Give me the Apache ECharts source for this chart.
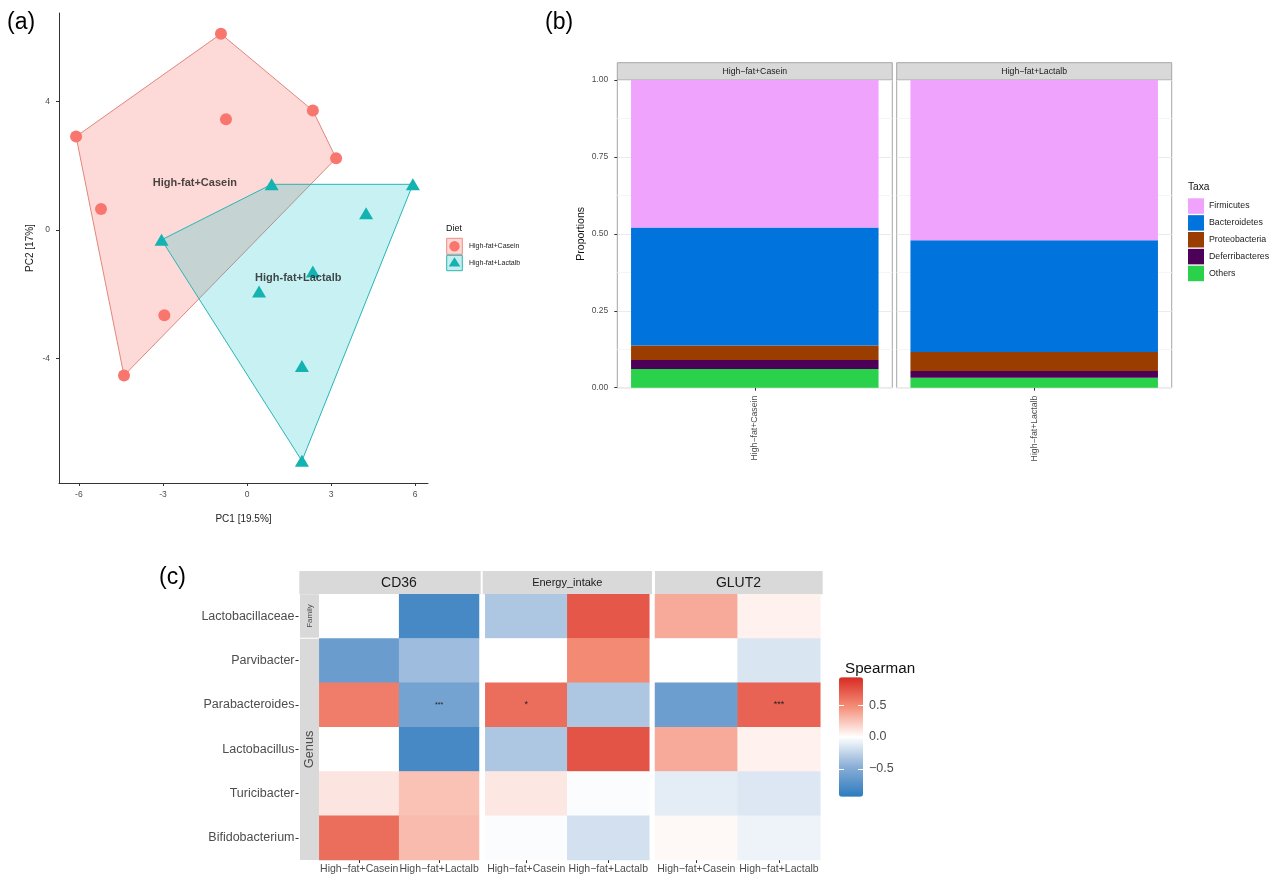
<!DOCTYPE html>
<html><head><meta charset="utf-8">
<script src="https://cdn.jsdelivr.net/npm/echarts@6.0.0/dist/echarts.min.js"></script>
<style>html,body{margin:0;padding:0;background:#fff}#chart{width:1281px;height:877px}</style>
</head><body><div id="chart"></div>
<script>
// ---------- (a) PCA ----------
const dietGroups = ['High-fat+Casein', 'High-fat+Lactalb'];
const pcaCaseinPC1 = [-0.93, 2.35, -0.75, -6.10, 3.18, -5.21, -2.95, -4.39];
const pcaCaseinPC2 = [6.11, 3.72, 3.45, 2.91, 2.23, 0.65, -2.66, -4.54];
const pcaLactalbPC1 = [0.88, 5.92, 4.25, -3.05, 2.35, 0.43, 1.96, 1.96];
const pcaLactalbPC2 = [1.42, 1.42, 0.52, -0.31, -1.30, -1.92, -4.24, -7.20];
const pcaLabelPC1 = [-1.86, 1.83];
const pcaLabelPC2 = [1.47, -1.49];
const pcaXTicks = [-6, -3, 0, 3, 6];
const pcaYTicks = [-4, 0, 4];

// ---------- (b) stacked proportions ----------
const facetDiets = ['High\u2212fat+Casein', 'High\u2212fat+Lactalb'];
const taxa = ['Firmicutes', 'Bacteroidetes', 'Proteobacteria', 'Deferribacteres', 'Others'];
const taxaColors = ['#f0a3fc', '#0073dd', '#9a3d00', '#4d0057', '#2ad14a'];
const propCasein = [0.479, 0.384, 0.047, 0.029, 0.061];
const propLactalb = [0.521, 0.363, 0.062, 0.022, 0.032];

// ---------- (c) Spearman heatmap ----------
const heatGenes = ['CD36', 'Energy_intake', 'GLUT2'];
const heatDiets = ['High\u2212fat+Casein', 'High\u2212fat+Lactalb'];
const heatRows = ['Lactobacillaceae', 'Parvibacter', 'Parabacteroides', 'Lactobacillus', 'Turicibacter', 'Bifidobacterium'];
const rhoCD36 = [[0, -0.81], [-0.63, -0.39], [0.56, -0.58], [0, -0.81], [0.11, 0.26], [0.63, 0.29]];
const rhoEnergy = [[-0.33, 0.73], [0, 0.50], [0.63, -0.33], [-0.33, 0.75], [0.10, -0.02], [-0.02, -0.18]];
const rhoGLUT2 = [[0.36, 0.06], [0, -0.15], [-0.62, 0.68], [0.36, 0.06], [-0.11, -0.14], [0.03, -0.07]];
const sigCD36 = [['', ''], ['', ''], ['', '***'], ['', ''], ['', ''], ['', '']];
const sigEnergy = [['', ''], ['', ''], ['*', ''], ['', ''], ['', ''], ['', '']];
const sigGLUT2 = [['', ''], ['', ''], ['', '***'], ['', ''], ['', ''], ['', '']];
const spearmanTicks = [-0.5, 0, 0.5];

const FONT = 'Liberation Sans, Arial, sans-serif';

function convexHull(pts) {
  const p = pts.slice().sort((a, b) => a[0] - b[0] || a[1] - b[1]);
  const cross = (o, a, b) => (a[0] - o[0]) * (b[1] - o[1]) - (a[1] - o[1]) * (b[0] - o[0]);
  const lower = [];
  for (const q of p) { while (lower.length >= 2 && cross(lower[lower.length - 2], lower[lower.length - 1], q) <= 0) lower.pop(); lower.push(q); }
  const upper = [];
  for (let i = p.length - 1; i >= 0; i--) { const q = p[i]; while (upper.length >= 2 && cross(upper[upper.length - 2], upper[upper.length - 1], q) <= 0) upper.pop(); upper.push(q); }
  upper.pop(); lower.pop();
  return lower.concat(upper);
}
const casPts = pcaCaseinPC1.map((x, i) => [x, pcaCaseinPC2[i]]);
const lacPts = pcaLactalbPC1.map((x, i) => [x, pcaLactalbPC2[i]]);
const hullC = convexHull(casPts);
const hullL = convexHull(lacPts);

function hullSeries(h, fill, stroke) {
  return {
    type: 'custom', xAxisIndex: 0, yAxisIndex: 0, data: h, silent: true, z: 1,
    renderItem: (params, api) => {
      if (params.dataIndex !== 0) return null;
      return { type: 'polygon', shape: { points: h.map(p => api.coord(p)) }, style: { fill: fill, stroke: stroke, lineWidth: 1 } };
    }
  };
}

const series = [];
series.push(hullSeries(hullC, 'rgba(248,118,109,0.27)', '#e0877e'));
series.push(hullSeries(hullL, 'rgba(0,191,196,0.22)', '#2ab5b5'));
series.push({ type: 'scatter', name: dietGroups[0], xAxisIndex: 0, yAxisIndex: 0, data: casPts, symbol: 'circle', symbolSize: 12, itemStyle: { color: '#F8766D', opacity: 1 }, z: 3, silent: true });
series.push({ type: 'scatter', name: dietGroups[1], xAxisIndex: 0, yAxisIndex: 0, data: lacPts, symbol: 'triangle', symbolSize: [14, 12], itemStyle: { color: '#13b3b1', opacity: 1 }, z: 3, silent: true });
series.push({
  type: 'scatter', xAxisIndex: 0, yAxisIndex: 0, symbolSize: 0, silent: true, z: 4,
  data: dietGroups.map((g, i) => ({ name: g, value: [pcaLabelPC1[i], pcaLabelPC2[i]] })),
  label: { show: true, position: 'inside', formatter: '{b}', fontWeight: 'bold', fontSize: 11, color: '#1a1a1a', fontFamily: FONT }
});

// (b) bars, stacked bottom->top: reversed taxa order
[propCasein, propLactalb].forEach((vals, g) => {
  for (let k = taxa.length - 1; k >= 0; k--) {
    series.push({ type: 'bar', name: taxa[k], xAxisIndex: 1 + g, yAxisIndex: 1 + g, stack: 's' + g, barWidth: '90%', data: [vals[k]], itemStyle: { color: taxaColors[k] }, silent: true });
  }
});

// (c) heatmaps
const heatIdx = [];
[rhoCD36, rhoEnergy, rhoGLUT2].forEach((rho, g) => {
  const sig = [sigCD36, sigEnergy, sigGLUT2][g];
  const data = [];
  heatRows.forEach((r, ri) => {
    heatDiets.forEach((d, di) => {
      const item = { value: [di, ri, rho[ri][di]] };
      if (sig[ri][di]) item.label = { show: true, formatter: sig[ri][di], fontSize: g === 0 ? 7 : 9, color: '#222' };
      data.push(item);
    });
  });
  heatIdx.push(series.length);
  series.push({ type: 'heatmap', xAxisIndex: 3 + g, yAxisIndex: 3 + g, data: data, silent: true, label: { show: false }, emphasis: { disabled: true } });
});

const axisGrey = '#4d4d4d';
const xAxes = [], yAxes = [];
// (a)
xAxes.push({ gridIndex: 0, type: 'value', min: -6.71, max: 6.46, name: 'PC1 [19.5%]', nameLocation: 'middle', nameGap: 31,
  nameTextStyle: { fontSize: 10, color: '#222' }, axisLine: { show: true, onZero: false, lineStyle: { color: '#333' } },
  axisTick: { show: true, length: 3, customValues: pcaXTicks, lineStyle: { color: '#333' } },
  axisLabel: { customValues: pcaXTicks, fontSize: 8.5, color: axisGrey, margin: 7 }, splitLine: { show: false } });
yAxes.push({ gridIndex: 0, type: 'value', min: -7.89, max: 6.76, name: 'PC2 [17%]', nameLocation: 'middle', nameGap: 24,
  nameTextStyle: { fontSize: 10, color: '#222' }, axisLine: { show: true, onZero: false, lineStyle: { color: '#333' } },
  axisTick: { show: true, length: 3, customValues: pcaYTicks, lineStyle: { color: '#333' } },
  axisLabel: { customValues: pcaYTicks, fontSize: 8.5, color: axisGrey, margin: 9 }, splitLine: { show: false } });
// (b)
[0, 1].forEach(g => {
  xAxes.push({ gridIndex: 1 + g, type: 'category', data: [facetDiets[g]], axisLine: { show: false },
    axisTick: { show: true, alignWithLabel: true, length: 3, lineStyle: { color: '#333' } },
    axisLabel: { rotate: 90, fontSize: 8.7, color: axisGrey, margin: 8 } });
  yAxes.push({ gridIndex: 1 + g, type: 'value', min: 0, max: 1, interval: 0.25,
    name: g === 0 ? 'Proportions' : '', nameLocation: 'middle', nameGap: 31, nameTextStyle: { fontSize: 10.5, color: '#111' },
    axisLine: { show: false }, axisTick: { show: g === 0, length: 3, lineStyle: { color: '#333' } },
    axisLabel: { show: g === 0, fontSize: 8.5, color: axisGrey, margin: 9, formatter: v => v.toFixed(2) },
    splitLine: { show: true, lineStyle: { color: '#ebebeb' } },
    minorTick: { show: false, splitNumber: 2 }, minorSplitLine: { show: true, lineStyle: { color: '#f5f5f5' } } });
});
// (c)
[0, 1, 2].forEach(g => {
  xAxes.push({ gridIndex: 3 + g, type: 'category', data: heatDiets, axisLine: { show: false },
    axisTick: { show: true, alignWithLabel: true, length: 3, lineStyle: { color: '#333' } },
    axisLabel: { interval: 0, fontSize: 10.5, color: axisGrey, margin: 4 }, splitLine: { show: false } });
  yAxes.push({ gridIndex: 3 + g, type: 'category', data: heatRows, inverse: true, offset: g === 0 ? 20.8 : 0,
    axisLine: { show: false }, axisTick: { show: g === 0, alignWithLabel: true, length: 3, lineStyle: { color: '#333' } },
    axisLabel: { show: g === 0, fontSize: 12.5, color: axisGrey, margin: 4 }, splitLine: { show: false } });
});
// colourbar axes
xAxes.push({ gridIndex: 6, type: 'value', show: false, min: 0, max: 1 });
yAxes.push({ gridIndex: 6, type: 'value', position: 'left', min: -0.94, max: 0.94, z: 10, axisLine: { show: false },
  axisTick: { show: true, inside: true, length: 5, customValues: spearmanTicks, lineStyle: { color: '#fff', width: 1 } },
  axisLabel: { show: false }, splitLine: { show: false } });
yAxes.push({ gridIndex: 6, type: 'value', position: 'right', min: -0.94, max: 0.94, z: 10, axisLine: { show: false },
  axisTick: { show: true, inside: true, length: 5, customValues: spearmanTicks, lineStyle: { color: '#fff', width: 1 } },
  axisLabel: { show: true, customValues: spearmanTicks, fontSize: 12.5, color: axisGrey, margin: 6,
    formatter: v => (v < 0 ? '\u2212' + Math.abs(v).toFixed(1) : v.toFixed(1)) }, splitLine: { show: false } });

const grids = [
  { left: 59, top: 13, width: 369, height: 470 },
  { left: 617.3, top: 80, width: 275, height: 307.7, show: true, borderColor: '#a6a6a6', borderWidth: 1, backgroundColor: 'transparent' },
  { left: 896.7, top: 80, width: 275, height: 307.7, show: true, borderColor: '#a6a6a6', borderWidth: 1, backgroundColor: 'transparent' },
  { left: 319.3, top: 594.3, width: 159.7, height: 265.7 },
  { left: 485.3, top: 594.3, width: 164, height: 265.7 },
  { left: 655, top: 594.3, width: 165.3, height: 265.7 },
  { left: 839, top: 677.3, width: 24, height: 119.4 }
];

const strip = '#d9d9d9';
const graphic = [
  { type: 'text', x: 7, y: 11, style: { text: '(a)', font: '23px ' + FONT, fill: '#000' } },
  { type: 'text', x: 545, y: 11, style: { text: '(b)', font: '23px ' + FONT, fill: '#000' } },
  { type: 'text', x: 159, y: 566, style: { text: '(c)', font: '23px ' + FONT, fill: '#000' } },
  // (a) legend
  { type: 'text', x: 446, y: 229, style: { text: 'Diet', font: '9px ' + FONT, fill: '#111', verticalAlign: 'middle' } },
  { type: 'rect', shape: { x: 446.7, y: 238.3, width: 15.6, height: 16 }, style: { fill: '#fad9d5', stroke: '#ef8b82', lineWidth: 1 } },
  { type: 'circle', shape: { cx: 454.5, cy: 246.3, r: 5.2 }, style: { fill: '#F8766D' } },
  { type: 'rect', shape: { x: 446.7, y: 255.3, width: 15.6, height: 15.4 }, style: { fill: '#c6eeef', stroke: '#2ab5b5', lineWidth: 1 } },
  { type: 'polygon', shape: { points: [[454.5, 257.3], [460.3, 266.5], [448.7, 266.5]] }, style: { fill: '#13b3b1' } },
  { type: 'text', x: 469, y: 246.3, style: { text: dietGroups[0], font: '7px ' + FONT, fill: '#222', verticalAlign: 'middle' } },
  { type: 'text', x: 469, y: 263, style: { text: dietGroups[1], font: '7px ' + FONT, fill: '#222', verticalAlign: 'middle' } },
  // (b) strips
  { type: 'rect', shape: { x: 617.3, y: 62.7, width: 275, height: 17.3 }, style: { fill: strip, stroke: '#a6a6a6', lineWidth: 1 } },
  { type: 'rect', shape: { x: 896.7, y: 62.7, width: 275, height: 17.3 }, style: { fill: strip, stroke: '#a6a6a6', lineWidth: 1 } },
  { type: 'text', x: 754.8, y: 71.5, style: { text: facetDiets[0], font: '8.7px ' + FONT, fill: '#1a1a1a', align: 'center', verticalAlign: 'middle' } },
  { type: 'text', x: 1034.2, y: 71.5, style: { text: facetDiets[1], font: '8.7px ' + FONT, fill: '#1a1a1a', align: 'center', verticalAlign: 'middle' } },
  { type: 'text', x: 1188, y: 187, style: { text: 'Taxa', font: '10.2px ' + FONT, fill: '#111', verticalAlign: 'middle' } },
  // (c) strips
  { type: 'rect', shape: { x: 299.3, y: 571, width: 181.4, height: 23.3 }, style: { fill: strip } },
  { type: 'rect', shape: { x: 482.7, y: 571, width: 169.3, height: 23.3 }, style: { fill: strip } },
  { type: 'rect', shape: { x: 655, y: 571, width: 167.7, height: 23.3 }, style: { fill: strip } },
  { type: 'text', x: 399, y: 583, style: { text: heatGenes[0], font: '14px ' + FONT, fill: '#1a1a1a', align: 'center', verticalAlign: 'middle' } },
  { type: 'text', x: 567.3, y: 583, style: { text: heatGenes[1], font: '11px ' + FONT, fill: '#1a1a1a', align: 'center', verticalAlign: 'middle' } },
  { type: 'text', x: 738.5, y: 583, style: { text: heatGenes[2], font: '14px ' + FONT, fill: '#1a1a1a', align: 'center', verticalAlign: 'middle' } },
  { type: 'rect', shape: { x: 300, y: 594.3, width: 19.3, height: 43.4 }, style: { fill: strip } },
  { type: 'rect', shape: { x: 300, y: 638.8, width: 19.3, height: 221.2 }, style: { fill: strip } },
  { type: 'text', x: 309.8, y: 616, rotation: Math.PI / 2, style: { text: 'Family', font: '8px ' + FONT, fill: '#4d4d4d', align: 'center', verticalAlign: 'middle' } },
  { type: 'text', x: 309.8, y: 749.4, rotation: Math.PI / 2, style: { text: 'Genus', font: '12.8px ' + FONT, fill: '#4d4d4d', align: 'center', verticalAlign: 'middle' } },
  { type: 'text', x: 845, y: 669, style: { text: 'Spearman', font: '15.2px ' + FONT, fill: '#111', verticalAlign: 'middle' } }
];

const option = {
  animation: false,
  backgroundColor: '#fff',
  textStyle: { fontFamily: FONT },
  grid: grids,
  xAxis: xAxes,
  yAxis: yAxes,
  legend: { data: taxa, left: 1188, top: 198.3, orient: 'vertical', icon: 'rect', itemWidth: 16, itemHeight: 15.5, itemGap: 1.35,
    selectedMode: false, padding: 0, textStyle: { fontSize: 8.8, color: '#1a1a1a' } },
  visualMap: { type: 'continuous', min: -0.94, max: 0.94, dimension: 2, seriesIndex: heatIdx, calculable: false, hoverLink: false,
    left: 839, top: 677.3, itemWidth: 24, itemHeight: 119.4, padding: 0, text: null, orient: 'vertical',
    inRange: { color: ['#2c7bbf', '#8aaed6', '#ffffff', '#f4907a', '#d92b22'] } },
  graphic: graphic,
  series: series
};
const chart = echarts.init(document.getElementById('chart'), null, { renderer: 'canvas' });
chart.setOption(option);
</script></body></html>
